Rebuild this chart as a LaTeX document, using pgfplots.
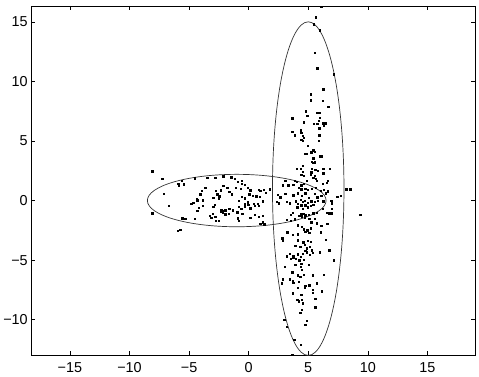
\documentclass[border=0pt]{standalone}
\usepackage{fontspec}
\setmainfont{Liberation Sans}
\usepackage{pgfplots}
\pgfplotsset{compat=1.18}
\begin{document}
\begin{tikzpicture}
\begin{axis}[
  scale only axis,
  width=447bp, height=352bp,
  xmin=-18.25, xmax=19, ymin=-13, ymax=16.33,
  axis line style={line width=0.7bp},
  xtick={-15,-10,-5,0,5,10,15},
  xticklabels={−15,−10,−5,0,5,10,15},
  ytick={-10,-5,0,5,10,15},
  yticklabels={−10,−5,0,5,10,15},
  tick align=inside,
  major tick length=4bp,
  tick style={line width=0.5bp, black},
  xtick pos=both, ytick pos=both,
  tick label style={font=\fontsize{14.5bp}{17bp}\selectfont},
  xticklabel style={yshift=-4bp},
  clip=false,
]
\addplot[only marks, mark=square*, mark size=0.7bp, mark options={draw=none, fill=black}] coordinates {
(6.08,16.25)(5.64,15.4)(5.47,14.8)(5.97,14.3)(5.53,12.4)(5.75,11.1)(7.14,10.6)(6.25,9.33)
(5.19,8.92)(5.19,8.42)(6.19,8.36)(6.69,7.86)(4.81,7.5)(5.69,7.39)(5.92,7.39)(3.64,6.92)
(4.92,7.11)(5.97,6.97)
(4.64,6.56)(5.47,6.44)(5.86,6.72)(5.75,6.44)(6.19,6.5)(6.42,6.5)(6.31,6.33)
(4.36,5.89)(4.42,5.67)(3.64,5.78)(3.86,5.5)(4.53,5.44)(4.64,5.28)(5.92,6.06)(5.92,5.5)
(4.42,5.11)(4.53,5.0)(5.86,5.0)(4.97,4.61)(5.42,4.22)(5.53,4.11)(5.25,4.06)(4.86,3.94)
(4.75,3.94)(5.97,3.72)(6.14,3.72)(5.42,3.56)(5.31,3.28)(5.53,3.22)(5.42,3.17)(4.53,2.94)
(4.03,2.67)(4.36,2.67)(4.53,2.44)(5.31,2.67)(5.25,2.39)(5.58,2.61)(5.81,2.5)(6.25,2.67)
(6.81,2.67)(5.19,2.17)(5.53,2.11)(5.64,1.83)(5.42,1.94)(5.69,1.67)(6.25,2.28)(6.64,1.67)
(6.53,1.5)(6.19,1.39)(4.42,2.17)(4.64,2.06)(3.08,1.67)(3.86,1.67)(4.03,1.56)(4.86,1.67)
(4.64,1.39)(4.42,1.28)(2.86,1.28)(3.31,1.28)(3.75,1.33)(4.19,1.06)(4.42,0.94)(4.75,1.0)
(4.97,0.89)(5.31,1.0)(5.64,1.06)(6.03,0.83)(6.31,0.89)(6.64,0.78)(1.75,0.94)(1.25,0.89)
(1.42,0.67)(2.42,0.5)(2.64,0.28)(3.08,0.56)(3.75,0.44)(4.14,0.61)(4.47,0.39)(4.75,0.61)
(5.03,0.22)(5.53,0.56)(5.75,0.28)(6.08,0.39)(6.47,0.61)(7.42,0.33)(7.75,0.39)(8.19,0.94)
(8.53,0.94)
(1.19,-0.06)(2.36,-0.11)(2.53,-0.22)(3.19,-0.11)(3.42,-0.22)(3.97,-0.06)(4.14,-0.28)
(4.36,0.06)(4.53,-0.11)(4.69,0.0)(4.97,-0.17)(5.25,-0.06)(5.53,-0.11)(5.81,0.0)(6.25,-0.06)
(6.92,0.0)(6.97,-0.22)(4.42,-0.39)(4.75,-0.39)(5.19,-0.44)(5.42,-0.33)(4.08,-0.56)(4.53,-0.67)
(4.97,-0.56)(6.19,-0.67)(6.97,-0.67)(3.69,-1.0)(3.53,-1.17)(4.36,-1.11)(4.58,-1.11)(4.75,-1.22)
(5.03,-1.17)(5.42,-1.06)(5.69,-1.0)(4.25,-1.28)(4.47,-1.33)(4.69,-1.39)(6.53,-1.0)(6.75,-1.06)
(6.92,-1.06)(9.36,-1.17)(1.19,-1.28)(3.19,-1.61)(3.53,-1.67)(3.86,-1.56)(5.08,-1.5)(5.53,-1.5)
(5.25,-1.83)(5.69,-1.89)(6.58,-1.94)(6.08,-2.11)(1.19,-1.83)(1.31,-2.0)(4.14,-2.06)(4.47,-2.22)
(4.64,-2.39)(4.92,-2.5)(5.19,-2.33)(3.25,-2.67)(3.69,-2.89)(4.14,-2.83)(4.75,-2.61)(5.08,-2.72)
(6.03,-2.67)(2.81,-3.17)(2.86,-3.33)(4.14,-3.33)(4.58,-3.5)(4.97,-3.39)(5.19,-3.44)(6.47,-3.28)
(3.92,-3.78)(4.31,-3.89)(4.69,-3.72)(4.86,-4.0)(5.14,-3.89)(5.31,-4.17)(6.75,-4.17)(5.97,-4.33)
(3.42,-4.44)(3.75,-4.61)(4.14,-4.5)(4.36,-4.72)(4.53,-4.44)(4.64,-4.94)(4.75,-4.22)(4.86,-4.33)
(3.19,-4.67)(3.53,-4.89)(3.75,-4.78)(3.97,-4.89)(5.14,-4.56)(5.36,-4.39)(7.14,-5.0)(4.25,-5.0)
(4.42,-5.28)(5.03,-5.39)(3.03,-5.56)(3.92,-5.39)(4.36,-5.56)(4.47,-5.78)(3.64,-6.0)(4.64,-6.22)
(5.36,-6.28)(6.31,-6.22)(4.14,-6.28)(4.31,-6.39)
(2.86,-6.61)(2.75,-6.94)(3.47,-6.61)(3.69,-6.78)(3.75,-6.89)(4.19,-6.83)(4.14,-7.33)(4.75,-7.17)
(4.69,-7.33)(5.08,-7.11)(5.69,-6.94)(5.36,-7.5)(5.36,-7.72)(6.14,-7.61)(3.69,-7.78)(4.42,-7.89)
(5.58,-8.22)(4.08,-8.33)(4.19,-8.44)(4.47,-8.33)(4.53,-8.61)(5.58,-8.94)(4.47,-9.17)(4.31,-9.39)
(2.97,-10.0)(4.86,-10.06)(4.75,-10.44)(3.19,-10.61)(3.81,-11.67)(4.36,-12.11)(3.64,-12.94)
(-8.08,2.47)(-7.25,1.81)(-5.92,1.42)(-5.86,1.25)(-5.47,1.36)(-5.64,1.69)(-4.53,1.86)(-3.47,1.92)
(-2.81,1.92)(-2.14,2.03)(-1.47,1.97)(-1.19,1.81)(-0.58,1.69)(-7.14,0.58)(-3.64,1.08)(-3.92,0.81)
(-4.08,0.53)(-4.36,0.14)(-4.64,-0.19)(-2.14,1.25)(-2.36,0.86)(-2.75,0.81)(-2.64,0.53)(-2.47,0.36)
(-2.53,0.19)(-2.97,0.25)(-1.81,1.08)(-1.64,0.75)(-1.42,0.53)(-0.92,1.58)(-0.58,1.42)(-0.31,1.31)
(-0.69,0.97)(-1.08,1.08)(-0.08,1.08)(0.14,0.86)(0.36,0.42)(0.64,0.36)(-0.58,0.31)(-0.31,0.19)
(0.03,0.53)(-0.81,-0.03)(-0.31,-0.47)(-0.08,-0.14)(0.86,0.92)(0.97,0.81)(0.92,0.31)(-6.69,-0.42)
(-4.81,-0.25)(-4.31,0.03)(-3.86,0.03)(-4.19,-0.58)(-3.86,-0.42)(-2.86,-0.36)(-2.97,-0.53)(-3.03,-1.08)
(-2.31,-0.75)(-2.36,-0.92)(-2.14,-0.86)(-1.97,-0.81)(-1.64,-0.69)(-1.36,-0.81)(-0.86,-0.53)(-0.64,-0.69)
(-0.97,-0.97)(-0.53,-1.08)(-0.31,-0.25)(-0.03,-0.36)(0.14,-0.64)(0.42,-0.25)(0.53,-0.42)(0.75,-0.25)
(0.86,-0.42)(-4.31,-0.86)(-3.25,-1.25)(-3.14,-1.42)(-2.81,-1.36)(-2.19,-0.97)(-1.97,-1.14)(-1.69,-1.08)
(-0.92,-1.47)(-5.58,-1.47)(-5.31,-1.53)(-4.53,-1.53)(-2.75,-1.69)(-2.53,-1.69)(-0.86,-1.69)(0.14,-1.42)
(0.53,-1.19)(0.86,-1.36)(0.97,-1.92)(-5.97,-2.53)(-5.75,-2.47)(-8.08,-1.06)
};
\draw[line width=0.7bp, black!80] (axis cs:-1,0) ellipse [x radius=7.5, y radius=2.2];
\draw[line width=0.7bp, black!80] (axis cs:5,1) ellipse [x radius=3, y radius=14];
\end{axis}
\path (current axis.south west) ++(-28bp,-21bp) coordinate (bbsw);
\path (current axis.north east) ++(4bp,6bp) coordinate (bbne);
\useasboundingbox (bbsw) rectangle (bbne);
\end{tikzpicture}
\end{document}
